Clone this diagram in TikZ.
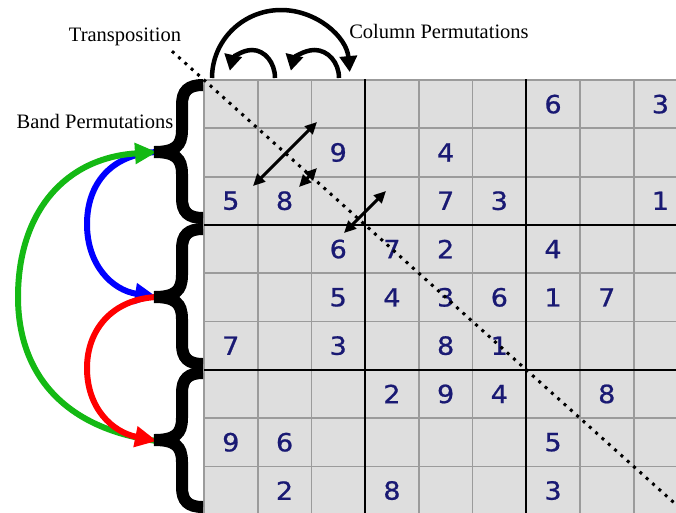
\documentclass[tikz,border=0pt]{standalone}
\usepackage{fontspec}
\setmainfont{Liberation Serif}
\newfontfamily\digitfont[FakeBold=0.8]{DejaVu Sans}
\usetikzlibrary{arrows.meta}
\definecolor{cellgray}{RGB}{222,222,222}
\definecolor{linegray}{RGB}{155,155,155}
\definecolor{digitblue}{RGB}{25,25,115}
\definecolor{bandgreen}{RGB}{20,185,20}
\definecolor{bandblue}{RGB}{0,0,255}
\definecolor{bandred}{RGB}{255,0,0}
\begin{document}
\begin{tikzpicture}[x=1pt,y=-1pt,
  lbl/.style={font=\fontsize{20.5}{24}\selectfont, inner sep=0pt, anchor=base},
  digitnode/.style={font=\digitfont\fontsize{25}{25}\selectfont, text=digitblue, inner sep=0pt},
  thingrid/.style={draw=linegray, line width=1.8pt},
  boxline/.style={draw=black, line width=2.4pt},
  dotline/.style={draw=black, line width=3pt, dash pattern=on 3pt off 5.5pt},
  swaparrow/.style={draw=black, line width=3pt, {Triangle[length=12pt,width=11pt]}-{Triangle[length=12pt,width=11pt]}},
  colarr/.style={draw=black, line width=4.5pt, -{Triangle[length=16pt,width=17pt]}},
  bandarr/.style={line width=6pt, -{Triangle[length=22pt,width=20pt]}},
  bracestroke/.style={draw=black, line width=12pt, line join=miter}]
\useasboundingbox (0,0) rectangle (676,512);
\clip (0,0) rectangle (676,512);
% grid
\fill[cellgray] (204,80) rectangle (688,516);
\foreach \i in {0,...,9} \draw[thingrid] ({204+53.7*\i},80) -- ({204+53.7*\i},516);
\foreach \j in {0,...,9} \draw[thingrid] (204,{80+48.3*\j}) -- (688,{80+48.3*\j});
\foreach \i in {3,6} \draw[boxline] ({204+53.7*\i},79) -- ({204+53.7*\i},516);
\foreach \j in {3,6} \draw[boxline] (204,{80+48.3*\j}) -- (688,{80+48.3*\j});
% digits
\foreach \r/\c/\d in {0/6/6, 0/8/3,
  1/2/9, 1/4/4,
  2/0/5, 2/1/8, 2/4/7, 2/5/3, 2/8/1,
  3/2/6, 3/3/7, 3/4/2, 3/6/4,
  4/2/5, 4/3/4, 4/4/3, 4/5/6, 4/6/1, 4/7/7,
  5/0/7, 5/2/3, 5/4/8, 5/5/1,
  6/3/2, 6/4/9, 6/5/4, 6/7/8,
  7/0/9, 7/1/6, 7/6/5,
  8/1/2, 8/3/8, 8/6/3}
  \node[digitnode] (n\r\c) at ({204+53.7*(\c+0.5)},{80+48.3*(\r+0.5)}) {\scalebox{1.08}[1]{\d}};
% transposition diagonal
\coordinate (tA) at (172,51.2);
\coordinate (tB) at (690,517.1);
\draw[dotline] (tA) -- (tB);
% swap arrows
\coordinate (g1a) at (253,186); \coordinate (g1b) at (317,122);
\coordinate (g2a) at (299,187); \coordinate (g2b) at (317,168);
\coordinate (g3a) at (344,233); \coordinate (g3b) at (386,191);
\draw[swaparrow] (g1a) -- (g1b);
\draw[swaparrow] (g2a) -- (g2b);
\draw[swaparrow] (g3a) -- (g3b);
% column permutation arrows
\coordinate (ca) at (212,78);
\coordinate (cb) at (275,78);
\coordinate (cc) at (339,78);
\draw[colarr] (ca) arc[start angle=180, end angle=355, x radius=69, y radius=68];
\draw[colarr] (cb) arc[start angle=360, end angle=195, x radius=23, y radius=28];
\draw[colarr] (cc) arc[start angle=360, end angle=195, x radius=24.5, y radius=28];
% band permutation arrows
\coordinate (b1) at (157,152);
\coordinate (b2) at (157,297);
\coordinate (b3) at (157,441);
\draw[bandarr, draw=bandblue] (b1) .. controls (110,154) and (87,185) .. (87,224) .. controls (87,265) and (112,290) .. (b2);
\draw[bandarr, draw=bandgreen] (b3) .. controls (60,428) and (18,370) .. (18,297) .. controls (18,212) and (65,158) .. (b1);
\draw[bandarr, draw=bandred] (b2) .. controls (112,299) and (87,330) .. (87,368) .. controls (87,408) and (112,432) .. (b3);
% braces
\foreach \tp/\md/\bt in {85/152/218, 229/297/364, 373/440/507}
  \draw[bracestroke] (203,\tp) .. controls (188,\tp) and (182,{\tp+6}) .. (182,{\tp+20}) -- (182,{\md-22}) .. controls (182,{\md-6}) and (175,\md) .. (154,\md) .. controls (175,\md) and (182,{\md+6}) .. (182,{\md+22}) -- (182,{\bt-20}) .. controls (182,{\bt-6}) and (188,\bt) .. (203,\bt);
% labels
\node[lbl] (transp) at (125,41) {Transposition};
\node[lbl] (colp) at (439,38) {Column Permutations};
\node[lbl] (bandp) at (95,128) {Band Permutations};
\end{tikzpicture}
\end{document}
